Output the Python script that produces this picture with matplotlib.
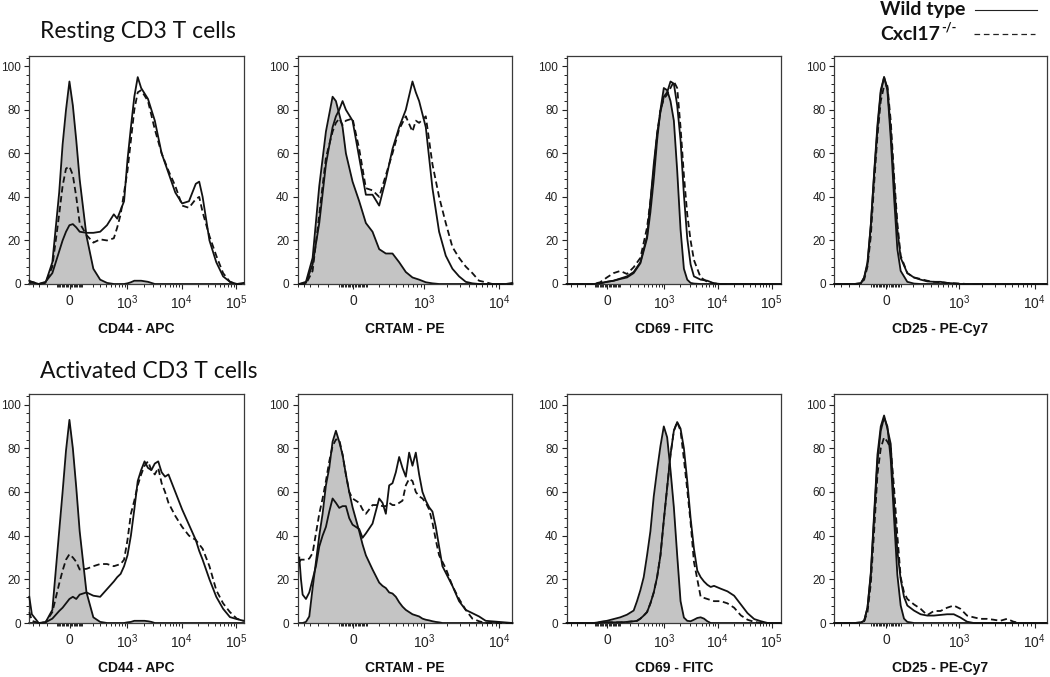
import numpy as np
import matplotlib
matplotlib.use('Agg')
from matplotlib import pyplot as plt
from matplotlib.lines import Line2D
from matplotlib.ticker import MultipleLocator

plt.rcParams['font.family'] = ['Liberation Sans', 'DejaVu Sans']
plt.rcParams['mathtext.default'] = 'regular'

# histogram data: display channel (0-256) vs % of max
# iso = gray filled control, wt = wild type (solid), ko = Cxcl17-/- (dashed)

# resting, CD44 - APC
cd44_rest_ch = [5, 8, 16, 24, 32, 40, 44, 48, 52, 56, 60, 64, 72, 80, 88, 96, 104, 108, 112, 116, 120,
                124, 128, 132, 136, 144, 152, 160, 168, 176, 184, 192, 200, 204, 208, 216, 224, 232, 240, 248, 256]
cd44_rest_iso = [0, 0, 0, 0.5, 10, 42, 64, 80, 93, 82, 66, 48, 22, 7, 2, 0.5, 0, 0, 0, 0, 0.3,
                 0.8, 1.5, 1.5, 1.5, 1, 0, 0, 0, 0, 0, 0, 0, 0, 0, 0, 0, 0, 0, 0, 0]
cd44_rest_wt = [1.5, 1, 0, 1, 5, 15, 20, 24, 27, 27.5, 26, 24, 23.5, 23.5, 24, 27, 32, 30, 34, 38, 57,
                72, 86, 95, 90, 85, 75, 60, 51, 42, 37, 38, 46, 47, 40, 20, 10, 3.5, 1, 0, 0.5]
cd44_rest_ko = [0.5, 1, 0, 0.5, 8, 32, 45, 53, 54, 50, 40, 28, 22.5, 19, 20.5, 20, 21, 26, 32, 42, 52,
                66, 80, 88, 89, 84, 71, 60, 52, 45, 36, 35, 39, 40, 33, 22, 13, 5, 1, 0, 0]

# resting, CRTAM - PE
crtam_rest_ch = [0, 8, 16, 24, 32, 40, 44, 48, 52, 56, 64, 72, 80, 88, 96, 104, 112, 120, 128, 136,
                 140, 144, 152, 160, 168, 176, 184, 192, 200, 208, 216, 224, 232, 240, 248, 256]
crtam_rest_iso = [0, 1, 12, 45, 70, 86, 84, 78, 72, 60, 47, 38, 28, 24, 16, 14, 14, 10, 5.5, 3,
                  2.5, 2, 0.8, 0.3, 0, 0, 0, 0, 0, 0, 0, 0, 0, 0, 0, 0]
crtam_rest_wt = [0, 0.5, 9, 28, 55, 72, 77, 80, 84, 80, 75, 58, 41, 41, 36, 48, 62, 72, 80, 93,
                 88, 84, 72, 44, 24, 13, 7, 3.5, 1, 0.3, 0, 0, 0, 0, 0, 0.5]
crtam_rest_ko = [0, 0, 6, 32, 58, 70, 74, 76, 73, 75, 76, 62, 44, 43, 40, 50, 60, 71, 77, 70,
                 75, 74, 77, 55, 40, 28, 17, 12, 8, 5, 1.5, 0.8, 0, 0, 0, 0]

# resting, CD69 - FITC
cd69_rest_ch = [0, 16, 32, 40, 48, 56, 64, 72, 80, 88, 96, 100, 104, 108, 112, 116, 120, 124, 128, 132,
                136, 140, 144, 148, 152, 160, 168, 176, 184, 256]
cd69_rest_iso = [0, 0, 0, 0.3, 1, 1.5, 2.3, 3, 5, 9.5, 21, 33, 48, 66, 80, 90, 89, 84, 75, 52,
                 25, 7, 2, 0.5, 0.2, 0, 0, 0, 0, 0]
cd69_rest_wt = [0, 0, 0, 0.3, 1, 1.5, 2.5, 3.5, 5.5, 10, 22, 38, 55, 69, 79, 86, 88, 93, 92, 82,
                66, 41, 21, 9, 3.5, 2, 1.5, 0.3, 0, 0]
cd69_rest_ko = [0, 0, 0, 0.8, 3, 5, 6, 4.6, 7.7, 12, 26, 38, 52, 69, 80, 85, 87, 90, 93, 90,
                72, 50, 32, 20, 11, 3, 1, 0.3, 0, 0]

# resting, CD25 - PE-Cy7
cd25_rest_ch = [0, 24, 32, 36, 40, 44, 48, 52, 56, 60, 64, 68, 72, 76, 80, 88, 96, 104, 112, 120,
                128, 136, 144, 152, 160, 256]
cd25_rest_iso = [0, 0, 0.3, 3, 9, 27, 50, 71, 88, 95, 89, 67, 40, 16, 6, 1, 0.2, 0, 0, 0,
                 0, 0, 0, 0, 0, 0]
cd25_rest_wt = [0, 0, 0.3, 3, 10, 27, 51, 73, 89, 95, 90, 71, 47, 25, 12, 5, 3, 2, 1.2, 1,
                1, 0.5, 0.3, 0, 0, 0]
cd25_rest_ko = [0, 0, 0.2, 2, 8, 22, 46, 68, 84, 91, 91, 75, 50, 28, 13, 5, 3, 2.3, 1.5, 1,
                0.8, 0.5, 0.3, 0.2, 0, 0]

# activated, CD44 - APC
cd44_act_ch = [5, 8, 16, 24, 32, 40, 44, 48, 52, 56, 60, 64, 72, 80, 88, 96, 104, 108, 112, 116,
               120, 124, 128, 132, 136, 140, 144, 148, 152, 156, 160, 164, 168, 176, 184,
               192, 200, 204, 208, 216, 224, 232, 240, 248, 256]
cd44_act_iso = [0, 0, 0, 0.3, 6, 42, 60, 79, 93, 80, 62, 42, 14, 2.6, 0.5, 0, 0, 0, 0, 0,
                0.3, 0.5, 1, 1, 1, 1, 0.8, 0.5, 0, 0, 0, 0, 0, 0, 0,
                0, 0, 0, 0, 0, 0, 0, 0, 0, 0]
cd44_act_wt = [12, 4, 0, 0.3, 2, 5.5, 7, 9, 11, 12, 11, 13, 14, 12.5, 12, 15.5, 19, 21, 22.5, 26,
               31, 40, 52, 65, 70, 74, 71, 70, 73, 74, 69, 67, 68, 60, 52,
               45, 38, 33, 29, 20, 12, 6.5, 2.7, 1.8, 1]
cd44_act_ko = [5, 1, 0, 0.3, 5, 18, 24, 29, 31.5, 30, 28, 24.5, 24.8, 26, 27, 27, 26, 26.5, 27, 29,
               38, 50, 56, 63, 68, 72, 74, 70, 68, 71, 64, 60, 55, 49, 44,
               40, 38, 36, 34, 26, 15, 9, 5, 2, 1]

# activated, CRTAM - PE
crtam_act_ch = [0, 2, 4, 8, 12, 16, 20, 24, 28, 32, 36, 40, 44, 48, 52, 56, 60, 64, 72, 76,
                80, 88, 96, 100, 104, 108, 112, 116, 120, 124, 128, 132, 136, 140, 144,
                148, 152, 156, 160, 164, 168, 172, 176, 184, 192, 200, 208, 216, 224, 256]
crtam_act_iso = [0, 0, 0, 0.5, 3, 16, 28, 40, 50, 63, 71, 83, 88, 83, 77, 68, 60, 53, 42, 36,
                 31, 24.5, 18.5, 17, 16, 14, 13.5, 12, 9.5, 7.5, 6, 5, 4, 3.5, 3,
                 2, 1.5, 1.2, 0.8, 0.5, 0.3, 0, 0, 0, 0, 0, 0, 0, 0, 0]
crtam_act_wt = [30, 20, 13, 11, 14, 20, 26, 35, 40, 44, 51, 57, 55, 52.7, 53.5, 53.5, 48, 45, 43, 39,
                41, 45.5, 57, 55, 50, 63, 64, 69, 76, 71, 67, 78, 72, 78, 68,
                60, 56, 53, 51, 44, 35, 26, 23, 17, 10, 6, 4.5, 3, 1, 0]
crtam_act_ko = [28, 29, 29, 29, 29.5, 32, 41, 50, 57, 65, 74, 81, 84, 84, 77, 68, 60, 57, 55, 52,
                50, 54, 54, 53.5, 53.5, 55, 54, 54, 55, 56, 63, 66, 65, 60, 58,
                57, 55, 52, 46, 38, 31, 28, 25, 17, 11, 6, 2, 0.8, 0, 0]

# activated, CD69 - FITC
cd69_act_ch = [0, 16, 32, 36, 40, 44, 48, 56, 64, 72, 80, 84, 88, 92, 96, 100, 104, 108, 112, 116,
               120, 124, 128, 132, 136, 140, 144, 148, 152, 156, 160, 164, 168, 172, 176,
               184, 192, 200, 208, 216, 224, 232, 240, 256]
cd69_act_iso = [0, 0, 0, 0.2, 0.5, 0.8, 1, 1.8, 2.6, 3.8, 5.7, 10, 15, 21, 31, 42, 58, 70, 81, 90,
                85, 70, 53, 31, 10, 2.5, 1, 0.8, 1.5, 2.3, 2.6, 2, 0.8, 0, 0,
                0, 0, 0, 0, 0, 0, 0, 0, 0]
cd69_act_wt = [0, 0, 0, 0, 0.2, 0.3, 0.3, 0.3, 0.3, 0.5, 0.8, 1, 2, 3.4, 5, 9, 14, 21, 31, 47,
               62, 77, 88, 92, 89, 80, 65, 48, 34, 24, 21, 19, 17.5, 16.5, 17,
               15.7, 14.5, 12.5, 8.5, 4.5, 1.8, 0.8, 0, 0]
cd69_act_ko = [0, 0, 0, 0, 0.2, 0.3, 0.3, 0.3, 0.3, 0.5, 0.8, 1, 2, 3.4, 5, 9, 14, 21, 31, 47,
               62, 77, 88, 92, 88, 75, 61, 46, 28, 20, 12, 11.5, 11, 10.5, 10,
               10, 9, 7, 3.5, 1.5, 0.5, 0, 0, 0]

# activated, CD25 - PE-Cy7
cd25_act_ch = [0, 24, 32, 36, 40, 44, 48, 52, 56, 60, 64, 68, 72, 76, 80, 84, 88, 96, 104, 112,
               120, 128, 136, 144, 152, 160, 168, 176, 184, 192, 200, 208, 216, 224, 232, 256]
cd25_act_iso = [0, 0, 0.2, 1, 7, 22, 48, 74, 88, 94, 90, 75, 48, 22, 8, 2, 0.5, 0, 0, 0,
                0, 0, 0, 0, 0, 0, 0, 0, 0, 0, 0, 0, 0, 0, 0, 0]
cd25_act_wt = [0, 0, 0.2, 1, 7, 23, 50, 77, 90, 95, 89, 82, 55, 33, 20, 12, 8, 5.7, 4, 3.4,
               3.4, 3.7, 4, 4, 2.5, 0.6, 0, 0, 0, 0, 0, 0, 0, 0, 0, 0]
cd25_act_ko = [0, 0, 0.2, 0.8, 5, 18, 42, 68, 80, 85, 83, 80, 62, 40, 21, 14, 11, 8.5, 6.5, 3.6,
               5.5, 5.5, 7, 8, 6.5, 3.4, 2.6, 1.9, 1.9, 1.5, 1, 1.9, 0.6, 0, 0, 0]

markers = ['CD44 - APC', 'CRTAM - PE', 'CD69 - FITC', 'CD25 - PE-Cy7']
row_titles = ['Resting CD3 T cells', 'Activated CD3 T cells']
tick_values = [0, 1e3, 1e4, 1e5]
tick_labels = ['0', '$10^3$', '$10^4$', '$10^5$']

# logicle-like display: channel of zero, channels per decade, linear width, view range
scales = [
    (52.2, 64.0, 178, (5, 256)),
    (64.9, 90.2, 229, (-1.8, 255.6)),
    (48.6, 64.3, 178, (0, 256)),
    (62.3, 91.3, 218, (0, 256)),
]

panels = [
    [(cd44_rest_ch, cd44_rest_iso, cd44_rest_wt, cd44_rest_ko),
     (crtam_rest_ch, crtam_rest_iso, crtam_rest_wt, crtam_rest_ko),
     (cd69_rest_ch, cd69_rest_iso, cd69_rest_wt, cd69_rest_ko),
     (cd25_rest_ch, cd25_rest_iso, cd25_rest_wt, cd25_rest_ko)],
    [(cd44_act_ch, cd44_act_iso, cd44_act_wt, cd44_act_ko),
     (crtam_act_ch, crtam_act_iso, crtam_act_wt, crtam_act_ko),
     (cd69_act_ch, cd69_act_iso, cd69_act_wt, cd69_act_ko),
     (cd25_act_ch, cd25_act_iso, cd25_act_wt, cd25_act_ko)],
]


def to_channel(v, zero, per_dec, w):
    return zero + per_dec * np.arcsinh(np.asarray(v, dtype=float) / w) / np.log(10)


minor_values = []
for k in range(1, 10):
    minor_values += [k * 10, -k * 10, k * 100, -k * 100]
for dec in [1e3, 1e4, 1e5]:
    minor_values += [k * dec for k in range(2, 10)]

W, H = 1050, 677
fig = plt.figure(figsize=(10.5, 6.77), dpi=100)

col_left = [29.3, 297.8, 566.7, 834.3]
col_width = [214.3, 214.2, 214.3, 212.4]
row_top = [56, 394.3]
row_bottom = [284, 623]

line_col = '#121212'
dash = (0, (3.5, 2.0))

for r in range(2):
    for c in range(4):
        ch, iso, wt, ko = panels[r][c]
        zero, per_dec, w, xlim = scales[c]
        ax = fig.add_axes([col_left[c] / W, 1 - row_bottom[r] / H,
                           col_width[c] / W, (row_bottom[r] - row_top[r]) / H])
        ax.fill_between(ch, iso, 0, color='#c4c4c4', lw=0, zorder=1)
        ax.plot(ch, iso, color=line_col, lw=1.3, zorder=2, clip_on=False)
        ax.plot(ch, wt, color=line_col, lw=1.3, zorder=3, clip_on=False)
        ax.plot(ch, ko, color=line_col, lw=1.3, ls=dash, zorder=4, clip_on=False)
        ax.set_xlim(*xlim)
        ax.set_ylim(0, 104.7)

        major = to_channel(tick_values, zero, per_dec, w)
        keep = [i for i in range(4) if xlim[0] <= major[i] <= xlim[1] + 2]
        ax.set_xticks([major[i] for i in keep])
        ax.set_xticklabels([tick_labels[i] for i in keep])
        minor = to_channel(minor_values, zero, per_dec, w)
        ax.set_xticks([m for m in minor if xlim[0] <= m <= xlim[1]], minor=True)

        ax.set_yticks([0, 20, 40, 60, 80, 100])
        ax.yaxis.set_minor_locator(MultipleLocator(4))
        ax.tick_params(axis='both', which='major', direction='out', length=3.6, width=0.8,
                       color='#222222', labelcolor='#222222')
        ax.tick_params(axis='both', which='minor', direction='out', length=2.2, width=0.7,
                       color='#222222')
        ax.tick_params(axis='x', which='major', pad=3.5, labelsize=10)
        ax.tick_params(axis='y', which='major', pad=2.5, labelsize=8.5)
        for s in ax.spines.values():
            s.set_linewidth(0.9)
            s.set_color('#3a3a3a')
        ax.set_xlabel(markers[c], fontsize=10, fontweight='bold', color='#111111', labelpad=7)

for r in range(2):
    fig.text(40 / W, 1 - [32, 372][r] / H, row_titles[r], fontsize=16.5, family=['Lato', 'DejaVu Sans'],
             va='center', ha='left', color='#111111')

# legend, top right
fig.text(880 / W, 1 - 10 / H, 'Wild type', fontsize=14, fontweight='bold',
         family=['Lato', 'DejaVu Sans'], va='center', ha='left', color='#111111')
t = fig.text(880 / W, 1 - 34 / H, 'Cxcl17', fontsize=14, fontweight='bold',
             family=['Lato', 'DejaVu Sans'], va='center', ha='left', color='#111111')
fig.canvas.draw()
bb = t.get_window_extent(renderer=fig.canvas.get_renderer())
fig.text(bb.x1 / W + 0.001, 1 - 28 / H, '-/-', fontsize=9, fontweight='bold',
         family=['Lato', 'DejaVu Sans'], va='center', ha='left', color='#111111')
fig.add_artist(Line2D([975 / W, 1037 / W], [1 - 10 / H, 1 - 10 / H], color='#222222', lw=0.8))
fig.add_artist(Line2D([974 / W, 1035 / W], [1 - 34 / H, 1 - 34 / H], color='#222222', lw=0.9,
                      ls=(0, (4.5, 3))))

plt.savefig('out.png', dpi=100)
